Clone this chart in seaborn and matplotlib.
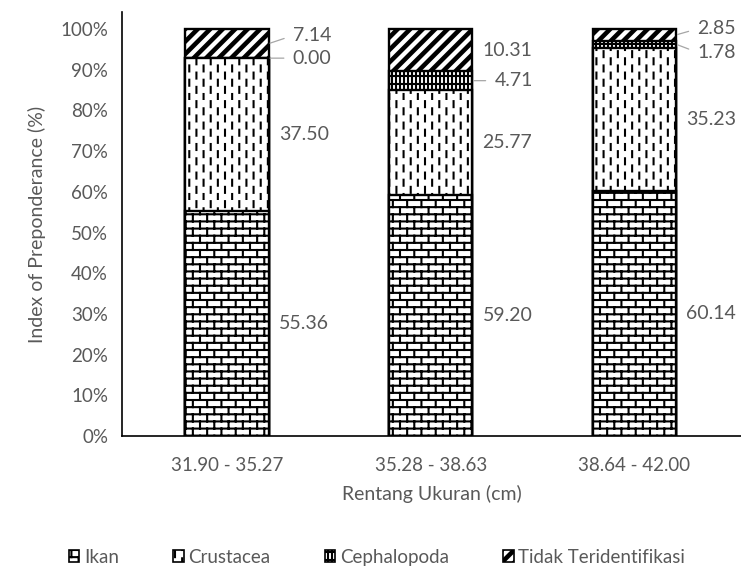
import warnings

import numpy as np
import matplotlib
matplotlib.use("Agg")
import matplotlib.pyplot as plt
import matplotlib.hatch as mhatch
from matplotlib.path import Path
from matplotlib.patches import Patch
import seaborn as sns

warnings.filterwarnings("ignore")

# ---- data -------------------------------------------------------------
size_classes = ["31.90 - 35.27", "35.28 - 38.63", "38.64 - 42.00"]
ikan = [55.36, 59.20, 60.14]
crustacea = [37.50, 25.77, 35.23]
cephalopoda = [0.00, 4.71, 1.78]
tidak_teridentifikasi = [7.14, 10.31, 2.85]
group_names = ["Ikan", "Crustacea", "Cephalopoda", "Tidak Teridentifikasi"]
y_ticks = list(range(0, 101, 10))


# ---- monochrome fill patterns (one tile = 1 inch) ---------------------
class _TiledHatch(mhatch.HatchPatternBase):
    key = ""

    def __init__(self, hatch, density):
        self.pieces = self.build() if (hatch and self.key in hatch) else []
        self.num_vertices = sum(len(p) + (1 if closed else 0)
                                for p, closed in self.pieces)

    def build(self):
        return []

    def set_vertices_and_codes(self, vertices, codes):
        i = 0
        for pts, closed in self.pieces:
            n = len(pts)
            vertices[i:i + n] = pts
            codes[i] = Path.MOVETO
            codes[i + 1:i + n] = Path.LINETO
            i += n
            if closed:
                vertices[i] = pts[0]
                codes[i] = Path.CLOSEPOLY
                i += 1


class _BrickHatch(_TiledHatch):
    key = "b"
    rows, per_row = 14, 7

    def build(self):
        out = []
        for i in range(self.rows + 1):
            y = i / self.rows
            out.append(([(0, y), (1, y)], False))
        for i in range(self.rows):
            y0, y1 = i / self.rows, (i + 1) / self.rows
            shift = 0.5 if i % 2 else 0.0
            for j in range(self.per_row + 1):
                x = (j + shift) / self.per_row
                if x <= 1:
                    out.append(([(x, y0), (x, y1)], False))
        return out


class _DashHatch(_TiledHatch):
    key = "c"
    cols, per_col, frac = 14, 7, 0.42

    def build(self):
        out = []
        for k in range(self.cols):
            x = (k + 0.5) / self.cols
            shift = 0.5 if k % 2 else 0.0
            for m in range(self.per_col):
                y0 = (m + shift) / self.per_col
                y1 = y0 + self.frac / self.per_col
                out.append(([(x, y0), (x, y1)], False))
        return out


class _DotGridHatch(_TiledHatch):
    key = "g"
    nx, ny = 25, 25

    def build(self):
        out = []
        for i in range(self.nx + 1):
            x = i / self.nx
            out.append(([(x, 0), (x, 1)], False))
        for j in range(0, self.ny + 1, 2):
            y = j / self.ny
            out.append(([(0, y), (1, y)], False))
        return out


class _StripeHatch(_TiledHatch):
    key = "d"
    n, w = 8, 0.035

    def build(self):
        out = []
        for k in range(-self.n, self.n + 1):
            c = k / self.n
            out.append(([(c, 0), (1 + c, 1), (1 + c + self.w, 1),
                         (c + self.w, 0)], True))
        return out


mhatch._hatch_types.extend([_BrickHatch, _DashHatch, _DotGridHatch, _StripeHatch])
group_hatches = ["b", "c", "g", "d"]

# ---- figure -------------------------------------------------------------
sns.set_theme(style="white")
plt.rcParams["font.family"] = ["Lato", "DejaVu Sans"]
plt.rcParams["hatch.linewidth"] = 1.5
plt.rcParams["hatch.color"] = "black"

text_grey = "#595959"
fs = 13.5
fig = plt.figure(figsize=(7.41, 5.72), dpi=100)
fig.patch.set_facecolor("white")
ax = fig.add_axes([122 / 741, 1 - 436 / 572, 1 - 122 / 741, (436 - 12) / 572])

layers = np.array([ikan, crustacea, cephalopoda, tidak_teridentifikasi])
tops = np.cumsum(layers, axis=0)
bar_w = 0.41

# stacked bars: draw cumulative heights from the top layer down
for idx in reversed(range(len(layers))):
    before = len(ax.patches)
    sns.barplot(x=size_classes, y=tops[idx], order=size_classes, color="white",
                saturation=1, width=bar_w, edgecolor="black", linewidth=1.7,
                ax=ax)
    for p in ax.patches[before:]:
        p.set_hatch(group_hatches[idx])
        p.set_facecolor("white")

ax.set_xlim(-0.515, 2.523)
ax.set_ylim(0, 104.2)
ax.set_yticks(y_ticks)
ax.set_yticklabels([f"{t}%" for t in y_ticks])
ax.tick_params(axis="both", length=0, colors=text_grey, labelsize=fs)
ax.tick_params(axis="y", pad=10)
ax.tick_params(axis="x", pad=15)
for side in ("top", "right"):
    ax.spines[side].set_visible(False)
for side in ("left", "bottom"):
    ax.spines[side].set_color("black")
    ax.spines[side].set_linewidth(1.2)
ax.set_xlabel("Rentang Ukuran (cm)", fontsize=14, color=text_grey, labelpad=8)
ax.set_ylabel("Index of Preponderance (%)", fontsize=14, color=text_grey,
              labelpad=10)
ax.grid(False)

# value labels: (layer, bar) -> (dx, dy) pixel shift for labels with leader lines
leader_shift = {
    (3, 0): (24, 8), (2, 0): (24, 0),
    (2, 1): (22, 0),
    (3, 2): (21, 6), (2, 2): (21, -8),
}
for li in range(len(layers)):
    for bi in range(len(size_classes)):
        val = layers[li][bi]
        mid = tops[li][bi] - val / 2
        xr = bi + bar_w / 2
        if (li, bi) in leader_shift:
            dx, dy = leader_shift[(li, bi)]
            ax.annotate(f"{val:.2f}", xy=(xr, mid), xytext=(dx, dy),
                        textcoords="offset pixels", ha="left", va="center",
                        fontsize=14, color=text_grey,
                        arrowprops=dict(arrowstyle="-", color="#a6a6a6", lw=0.9,
                                        relpos=(0, 0.5), shrinkA=4, shrinkB=1))
        else:
            ax.annotate(f"{val:.2f}", xy=(xr, mid), xytext=(10, 0),
                        textcoords="offset pixels", ha="left", va="center",
                        fontsize=14, color=text_grey)

handles = [Patch(facecolor="white", edgecolor="black", hatch=h, linewidth=1.2)
           for h in group_hatches]
fig.legend(handles, group_names, loc="center", bbox_to_anchor=(377 / 741, 0.026),
           ncol=4, frameon=False, handlelength=0.55, handleheight=0.55,
           handletextpad=0.25, columnspacing=2.9, fontsize=fs,
           labelcolor=text_grey)

fig.savefig("out.png", dpi=100, facecolor="white")
